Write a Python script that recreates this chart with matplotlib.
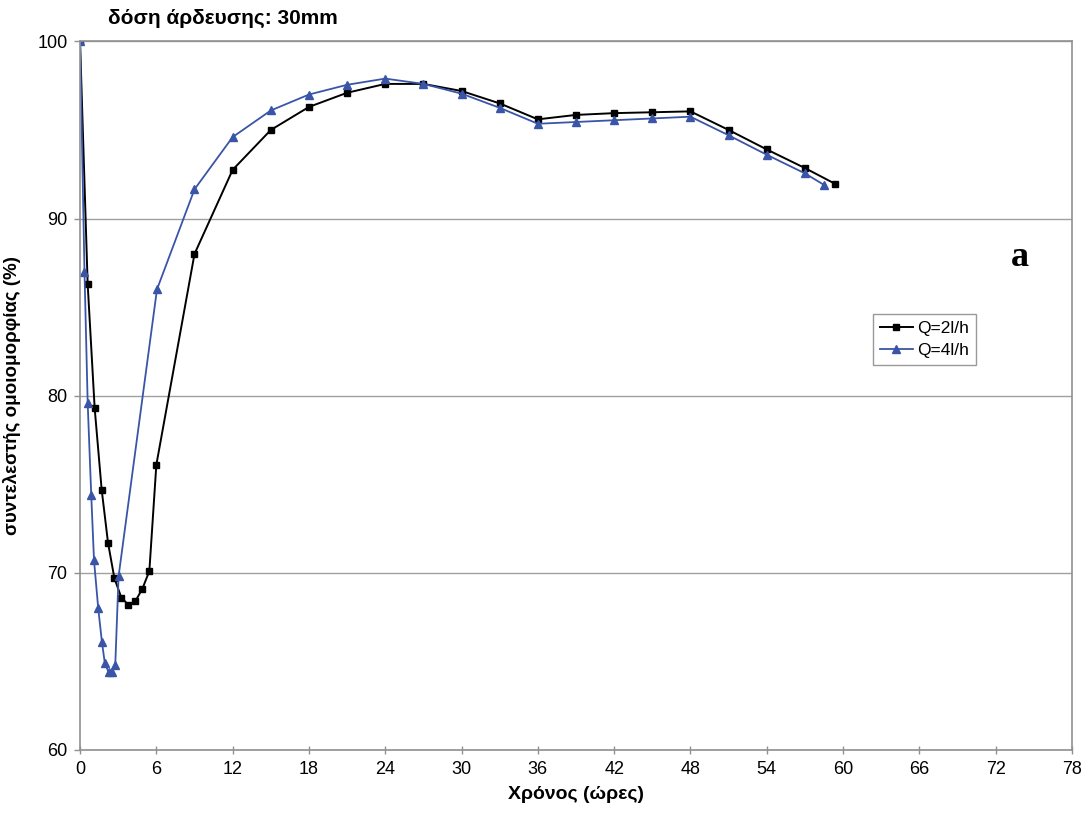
import matplotlib
matplotlib.use('Agg')
import matplotlib.pyplot as plt

plt.rcParams['font.family'] = ['Liberation Sans', 'DejaVu Sans']

# Q=2l/h
hours_q2 = [0, 0.6, 1.15, 1.7, 2.2, 2.7, 3.25, 3.8, 4.35, 4.9, 5.45, 6.0, 9.0, 12.0,
            15, 18, 21, 24, 27, 30, 33, 36, 39, 42, 45, 48, 51, 54, 57, 59.4]
cu_q2 = [100, 86.3, 79.3, 74.7, 71.7, 69.7, 68.6, 68.2, 68.4, 69.1, 70.1, 76.1, 88.0, 92.75,
         95.0, 96.3, 97.1, 97.6, 97.6, 97.2, 96.5, 95.6, 95.85, 95.95, 96.0, 96.05, 95.0, 93.9, 92.85, 91.95]

# Q=4l/h
hours_q4 = [0, 0.35, 0.6, 0.88, 1.1, 1.43, 1.72, 1.95, 2.24, 2.54, 2.77, 3.03, 6.05, 9.0, 12.0,
            15, 18, 21, 24, 27, 30, 33, 36, 39, 42, 45, 48, 51, 54, 57, 58.5]
cu_q4 = [100, 87.0, 79.6, 74.4, 70.7, 68.0, 66.1, 64.9, 64.4, 64.4, 64.8, 69.8, 86.0, 91.65, 94.6,
         96.1, 97.0, 97.55, 97.9, 97.6, 97.05, 96.25, 95.35, 95.45, 95.55, 95.65, 95.75, 94.7, 93.6, 92.55, 91.9]

x_ticks = list(range(0, 79, 6))
y_ticks = [60, 70, 80, 90, 100]

fig = plt.figure(figsize=(10.86, 8.23), dpi=100)
ax = fig.add_axes([0.0737, 0.0887, 0.9134, 0.861])

ax.plot(hours_q2, cu_q2, color='black', marker='s', markersize=5, linewidth=1.4, label='Q=2l/h')
ax.plot(hours_q4, cu_q4, color='#3a55a8', marker='^', markersize=5.5, linewidth=1.3, label='Q=4l/h')

ax.set_xlim(0, 78)
ax.set_ylim(60, 100)
ax.set_xticks(x_ticks)
ax.set_yticks(y_ticks)
ax.yaxis.grid(True, color='#a0a0a0', linewidth=1.0)
ax.set_axisbelow(True)
for s in ax.spines.values():
    s.set_color('#909090')
    s.set_linewidth(1.2)
ax.tick_params(colors='#909090', labelcolor='black', labelsize=13, length=4, width=1)
ax.tick_params(axis='x', direction='inout', length=6, pad=5)
ax.tick_params(axis='y', direction='out', pad=5)

ax.set_xlabel('Χρόνος (ώρες)', fontsize=14, fontweight='bold', labelpad=6)
ax.set_ylabel('συντελεστής ομοιομορφίας (%)', fontsize=13.5, fontweight='bold', labelpad=12)
fig.text(0.099, 0.977, 'δόση άρδευσης: 30mm', fontsize=15, fontweight='bold', va='center', ha='left')
fig.text(0.939, 0.687, 'a', fontsize=26, fontweight='bold', family='Liberation Serif', va='center', ha='center')

leg = ax.legend(loc='upper left', bbox_to_anchor=(0.799, 0.616), fontsize=12.5, frameon=True,
                fancybox=False, edgecolor='#808080', handlelength=1.9, borderpad=0.4,
                labelspacing=0.4, handletextpad=0.25, borderaxespad=0)
leg.get_frame().set_linewidth(1.0)

fig.savefig('out.png', dpi=100)
